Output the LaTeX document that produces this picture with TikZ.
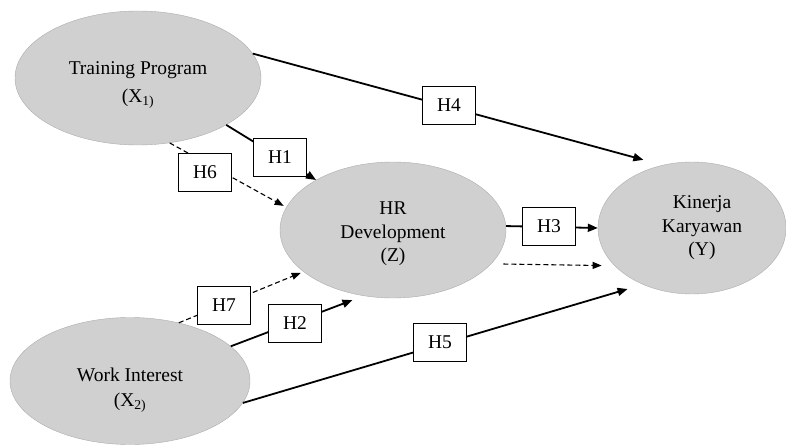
\documentclass[tikz,border=0pt]{standalone}
\usepackage{fontspec}
\setmainfont{Liberation Serif}
\usetikzlibrary{arrows.meta,shapes.geometric}

\begin{document}
\begin{tikzpicture}[
  x=1pt,y=-1pt,
  var/.style={ellipse,draw={rgb,255:red,172;green,172;blue,172},fill={rgb,255:red,208;green,208;blue,208},inner sep=0pt,align=center,font=\fontsize{19.5}{23.5}\selectfont},
  hyp/.style={draw,fill=white,line width=0.8pt,minimum width=53pt,minimum height=38pt,inner sep=0pt,font=\fontsize{19.5}{23}\selectfont},
  eff/.style={line width=1.8pt,-{Triangle[length=10pt,width=8pt]}},
  ind/.style={line width=1.1pt,dash pattern=on 5pt off 3pt,-{Triangle[length=9pt,width=7pt]}}
]
\useasboundingbox (0,0) rectangle (786,446);
\node[var,minimum width=246pt,minimum height=134pt] (tp) at (138,78) {\rule{0pt}{27pt}Training Program\\[4pt](X\textsubscript{1)}};
\node[var,minimum width=226pt,minimum height=136pt] (hrd) at (393,230) {\rule{0pt}{21pt}HR\\Development\\(Z)};
\node[var,minimum width=188pt,minimum height=132pt] (kin) at (692,228) {\hspace*{20pt}Kinerja\\\hspace*{20pt}Karyawan\\\hspace*{20pt}(Y)};
\node[var,minimum width=240pt,minimum height=127pt] (wi) at (130,381) {\rule{0pt}{32pt}Work Interest\\[1pt](X\textsubscript{2)}};
\draw[eff,shorten >=20pt] (tp.12) -- (kin.115);
\draw[eff] (tp.332) -- (hrd.147);
\draw[ind,shorten >=3pt] (tp.296) -- (hrd.168);
\draw[ind,shorten >=3pt] (wi.50) -- (hrd.205);
\draw[eff,shorten >=12pt] (wi.19) -- (hrd.246);
\draw[eff,shorten >=16pt] (wi.349) -- (kin.229);
\draw[eff] (hrd.2) -- (kin.180);
\draw[ind,shorten <=12pt,shorten >=13pt] (hrd.341) -- (kin.206);
\node[hyp] (h4) at (449,105) {H4};
\node[hyp] (h1) at (280,157) {H1};
\node[hyp] (h6) at (205,172) {H6};
\node[hyp] (h3) at (549,226) {H3};
\node[hyp] (h7) at (224,305) {H7};
\node[hyp] (h2) at (295,323) {H2};
\node[hyp] (h5) at (440,342) {H5};
\end{tikzpicture}
\end{document}
